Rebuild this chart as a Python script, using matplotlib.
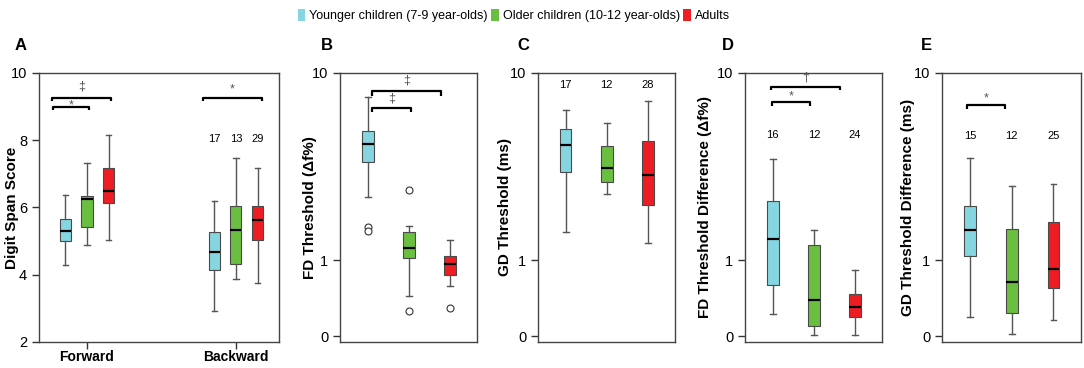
import numpy as np
import matplotlib
matplotlib.use('Agg')
import matplotlib.pyplot as plt
from matplotlib.patches import Patch

plt.rcParams['font.family'] = ['Liberation Sans', 'DejaVu Sans']

groups = ['Younger children (7-9 year-olds)', 'Older children (10-12 year-olds)', 'Adults']
colors = ['#86d6e2', '#6bbf40', '#ee1d24']

# box stats per group: (whislo, q1, med, q3, whishi)
digit_forward = [(4.29, 4.99, 5.31, 5.66, 6.38), (4.88, 5.43, 6.26, 6.33, 7.33), (5.03, 6.14, 6.48, 7.18, 8.17)]
digit_backward = [(2.91, 4.13, 4.68, 5.26, 6.18), (3.87, 4.32, 5.32, 6.04, 7.48), (3.75, 5.02, 5.62, 6.03, 7.17)]
fd_thresh = [(2.56, 3.90, 4.75, 5.50, 7.85), (0.45, 1.04, 1.24, 1.59, 1.73), (0.58, 0.75, 0.93, 1.08, 1.40)]
fd_fliers = [[1.71, 1.62], [2.78, 0.26], [0.29]]
gd_thresh = [(1.59, 3.46, 4.70, 5.58, 6.85), (2.67, 3.09, 3.62, 4.64, 5.99), (1.33, 2.32, 3.34, 4.93, 7.52)]
fd_diff = [(0.23, 0.59, 1.42, 2.42, 4.01), (0.015, 0.10, 0.39, 1.30, 1.63), (0.015, 0.19, 0.31, 0.47, 0.83)]
gd_diff = [(0.19, 1.08, 1.63, 2.28, 4.05), (0.02, 0.24, 0.64, 1.65, 2.93), (0.16, 0.56, 0.84, 1.84, 3.02)]

n_backward = ['17', '13', '29']
n_gd = ['17', '12', '28']
n_fd_diff = ['16', '12', '24']
n_gd_diff = ['15', '12', '25']


def make_stats(rows, fliers=None):
    out = []
    for i, (lo, q1, med, q3, hi) in enumerate(rows):
        out.append(dict(whislo=lo, q1=q1, med=med, q3=q3, whishi=hi,
                        fliers=fliers[i] if fliers else []))
    return out


def draw_boxes(ax, stats, positions, width):
    bp = ax.bxp(stats, positions=positions, widths=width, patch_artist=True,
                showfliers=True, manage_ticks=False,
                boxprops=dict(edgecolor='#4a4a4a', linewidth=0.8),
                whiskerprops=dict(color='#555555', linewidth=1.0),
                capprops=dict(color='#555555', linewidth=1.0),
                medianprops=dict(color='black', linewidth=1.6),
                flierprops=dict(marker='o', markerfacecolor='white',
                                markeredgecolor='#333333', markersize=5, markeredgewidth=0.8))
    for patch, c in zip(bp['boxes'], colors):
        patch.set_facecolor(c)


def bracket(ax, x0, x1, y, sym, ysym, tick=0.12):
    ax.plot([x0, x0, x1, x1], [y - tick, y, y, y - tick], color='black', lw=1.6,
            solid_capstyle='butt')
    ax.text((x0 + x1) / 2, ysym, sym, ha='center', va='center', fontsize=9, color='#555555')


def style(ax, ylabel, xlabel_x):
    for s in ax.spines.values():
        s.set_color('#444444')
        s.set_linewidth(1.0)
    ax.tick_params(axis='y', direction='out', length=5, width=1, color='#333333', labelsize=10.5)
    ax.set_ylabel(ylabel, fontsize=11, fontweight='bold')
    ax.yaxis.set_label_coords(xlabel_x, 0.5)


def ftr(x):
    return np.log10(np.maximum(np.asarray(x) + 1, 1e-6))


def inv(t):
    return 10 ** np.asarray(t) - 1


fig = plt.figure(figsize=(10.84, 3.68), dpi=100)
bot, h = 0.0707, 0.731
axA = fig.add_axes([0.036, bot, 0.2214, h])
axB = fig.add_axes([0.3137, bot, 0.1264, h])
axC = fig.add_axes([0.4963, bot, 0.1264, h])
axD = fig.add_axes([0.6873, bot, 0.1264, h])
axE = fig.add_axes([0.869, bot, 0.1282, h])

# Panel A
off = 0.145
draw_boxes(axA, make_stats(digit_forward), [1 - off, 1, 1 + off], 0.074)
draw_boxes(axA, make_stats(digit_backward), [2 - off, 2, 2 + off], 0.074)
axA.set_xlim(0.678, 2.289)
axA.set_ylim(2, 10)
axA.set_yticks([2, 4, 6, 8, 10])
axA.set_xticks([1, 2])
axA.set_xticklabels(['Forward', 'Backward'], fontsize=10, fontweight='bold')
axA.tick_params(axis='x', direction='out', length=5, width=1, color='#333333', pad=1)
style(axA, 'Digit Span Score', -0.083)
bracket(axA, 0.765, 1.161, 9.27, '\u2021', 9.6, tick=0.1)
bracket(axA, 0.772, 1.013, 9.0, '*', 9.03, tick=0.1)
bracket(axA, 1.78, 2.174, 9.27, '*', 9.5, tick=0.1)
for i, n in enumerate(n_backward):
    axA.text(2 + (i - 1) * off, 8.05, n, ha='center', va='center', fontsize=8)

# Panels B-E
log_axes = [axB, axC, axD, axE]
log_data = [(fd_thresh, fd_fliers), (gd_thresh, None), (fd_diff, None), (gd_diff, None)]
ylabels = ['FD Threshold (\u0394f%)', 'GD Threshold (ms)',
           'FD Threshold Difference (\u0394f%)', 'GD Threshold Difference (ms)']
label_x = [-0.168, -0.19, -0.24, -0.194]
for ax, (rows, fl), yl, lx in zip(log_axes, log_data, ylabels, label_x):
    ax.set_yscale('function', functions=(ftr, inv))
    draw_boxes(ax, make_stats(rows, fl), [1, 2, 3], 0.28)
    ax.set_xlim(0.325, 3.66)
    ax.set_ylim(-0.05, 10)
    ax.set_yticks([0, 1, 10])
    ax.set_yticklabels(['0', '1', '10'])
    ax.yaxis.set_minor_locator(matplotlib.ticker.NullLocator())
    ax.set_xticks([])
    style(ax, yl, lx)

bracket(axB, 1.1, 2.78, 8.3, '\u2021', 9.25, tick=0.35)
bracket(axB, 1.1, 2.04, 7.0, '\u2021', 7.75, tick=0.3)

for i, n in enumerate(n_gd):
    axC.text(i + 1, 8.86, n, ha='center', va='center', fontsize=8)

bracket(axD, 0.95, 2.63, 8.7, '\u2020', 9.6, tick=0.3)
bracket(axD, 0.98, 1.9, 7.45, '*', 7.85, tick=0.3)
for i, n in enumerate(n_fd_diff):
    axD.text(i + 1, 5.26, n, ha='center', va='center', fontsize=8)

bracket(axE, 0.92, 1.84, 7.2, '*', 7.75, tick=0.3)
for i, n in enumerate(n_gd_diff):
    axE.text(i + 1, 5.19, n, ha='center', va='center', fontsize=8)

# panel letters
for x, letter in zip([21, 327, 523, 728, 926], 'ABCDE'):
    fig.text(x / 1084, 1 - 45 / 368, letter, ha='center', va='center',
             fontsize=12, fontweight='bold')

handles = [Patch(facecolor=c, edgecolor='none') for c in colors]
fig.legend(handles, groups, loc='upper center', bbox_to_anchor=(0.474, 1.005), ncol=3,
           frameon=False, fontsize=9, handlelength=0.6, handleheight=1.0,
           handletextpad=0.3, columnspacing=0.3)

fig.savefig('out.png', dpi=100)
